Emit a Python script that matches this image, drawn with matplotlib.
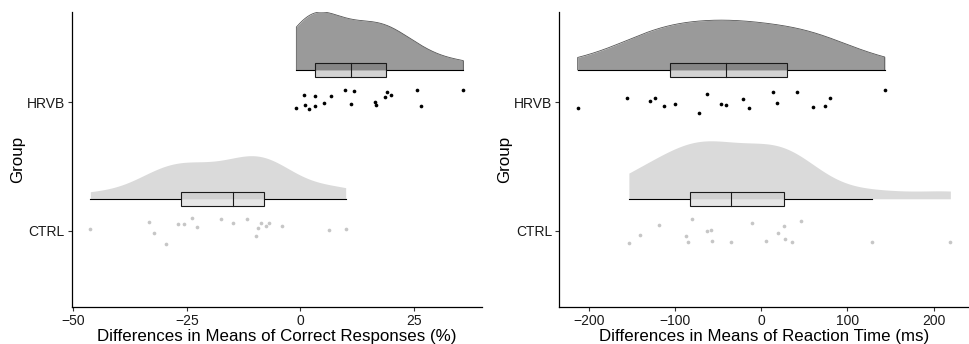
import numpy as np
import matplotlib
matplotlib.use('Agg')
import matplotlib.pyplot as plt
from matplotlib.patches import Rectangle

plt.rcParams['font.family'] = ['Liberation Sans', 'DejaVu Sans']

groups = ['CTRL', 'HRVB']

# Left panel: differences in means of correct responses (%)
cr_hrvb = [-0.88, 0.73, 0.95, 1.98, 3.30, 3.30, 5.22, 6.83, 9.76, 11.08, 11.74,
           16.37, 16.59, 18.57, 19.16, 20.04, 25.70, 26.65, 35.90]
cr_hrvb_jit = [-0.047, 0.059, -0.026, -0.054, 0.051, -0.029, -0.003, 0.049, 0.093, -0.016,
               0.088, 0.002, -0.021, 0.039, 0.075, 0.057, 0.093, -0.029, 0.096]
cr_ctrl = [-46.26, -33.26, -32.16, -29.58, -26.94, -25.62, -23.94, -22.84, -17.40, -14.91,
           -11.67, -9.69, -9.25, -8.59, -7.49, -6.83, -3.96, 6.39, 9.98]
cr_ctrl_jit = [0.016, 0.072, -0.016, -0.099, 0.052, 0.054, 0.101, 0.031, 0.091, 0.062,
               0.096, -0.037, 0.023, 0.060, 0.041, 0.062, 0.041, 0.010, 0.016]

# Right panel: differences in means of reaction time (ms)
rt_hrvb = [-213.2, -156.0, -129.7, -123.9, -113.1, -100.0, -72.2, -63.6, -47.0, -41.2,
           -21.1, -13.7, 13.3, 17.9, 41.5, 60.1, 74.5, 79.8, 143.3]
rt_hrvb_jit = [-0.047, 0.036, 0.010, 0.033, -0.029, -0.016, -0.085, 0.064, -0.011, -0.026,
               0.028, -0.044, 0.080, -0.003, 0.080, -0.037, -0.029, 0.036, 0.096]
rt_ctrl = [-153.7, -140.6, -119.3, -87.6, -85.3, -80.3, -63.6, -58.6, -57.4, -35.7,
           -11.0, 5.2, 19.95, 26.1, 27.6, 35.4, 46.2, 128.2, 219.5]
rt_ctrl_jit = [-0.091, -0.033, 0.049, -0.039, -0.088, 0.096, 0.002, 0.005, -0.080, -0.085,
               0.062, -0.080, -0.018, 0.041, -0.064, -0.083, 0.078, -0.085, -0.083]

panels = [
    dict(data={'CTRL': (cr_ctrl, cr_ctrl_jit), 'HRVB': (cr_hrvb, cr_hrvb_jit)},
         xlabel='Differences in Means of Correct Responses (%)',
         xticks=[-50, -25, 0, 25]),
    dict(data={'CTRL': (rt_ctrl, rt_ctrl_jit), 'HRVB': (rt_hrvb, rt_hrvb_jit)},
         xlabel='Differences in Means of Reaction Time (ms)',
         xticks=[-200, -100, 0, 100, 200]),
]

style = {
    'HRVB': dict(vfill='#9a9a9a', vedge='#555555', box=(0.26, 0.26, 0.26, 0.23), pt='black'),
    'CTRL': dict(vfill='#dadada', vedge=None, box=(0.757, 0.757, 0.757, 0.40), pt='#c6c6c6'),
}


def kde(x, grid):
    x = np.asarray(x, float)
    n = len(x)
    sd = x.std(ddof=1)
    iqr = np.subtract(*np.percentile(x, [75, 25]))
    bw = 0.9 * min(sd, iqr / 1.34) * n ** -0.2
    z = (grid[:, None] - x[None, :]) / bw
    return np.exp(-0.5 * z ** 2).sum(1) / (n * bw * np.sqrt(2 * np.pi))


fig = plt.figure(figsize=(9.69, 3.44), dpi=100)
axes = [fig.add_axes([0.074, 0.1076, 0.4234, 0.8576]),
        fig.add_axes([0.5769, 0.1076, 0.4231, 0.8576])]

for ax, pan in zip(axes, panels):
    dens = {}
    for g in groups:
        x = np.asarray(pan['data'][g][0])
        grid = np.linspace(x.min(), x.max(), 512)
        dens[g] = (grid, kde(x, grid))
    dmax = max(d.max() for _, d in dens.values())
    allx = np.concatenate([pan['data'][g][0] for g in groups])
    rng = allx.max() - allx.min()
    for pos, g in enumerate(groups, start=1):
        x = np.asarray(pan['data'][g][0])
        jit = np.asarray(pan['data'][g][1])
        st = style[g]
        base = pos + 0.25
        grid, d = dens[g]
        half = 0.45 * d / dmax
        ax.fill_between(grid, base, base + half, color=st['vfill'], lw=0, zorder=1)
        if st['vedge']:
            ox = np.concatenate([[grid[0]], grid, [grid[-1]]])
            oy = np.concatenate([[base], base + half, [base]])
            ax.plot(ox, oy, color=st['vedge'], lw=0.6, zorder=1.5)
        q1, med, q3 = np.percentile(x, [25, 50, 75])
        iqr = q3 - q1
        lo = x[x >= q1 - 1.5 * iqr].min()
        hi = x[x <= q3 + 1.5 * iqr].max()
        ax.plot([lo, q1], [base, base], color='black', lw=0.8, zorder=3)
        ax.plot([q3, hi], [base, base], color='black', lw=0.8, zorder=3)
        bh = 0.053
        ax.add_patch(Rectangle((q1, base - bh), q3 - q1, 2 * bh, facecolor=st['box'],
                               edgecolor='#1a1a1a', lw=0.8, zorder=3))
        ax.plot([med, med], [base - bh, base + bh], color='#1a1a1a', lw=0.8, zorder=3.5)
        ax.scatter(x, pos + jit, s=7, color=st['pt'], lw=0, zorder=4)
    ax.set_xlim(allx.min() - 0.05 * rng, allx.max() + 0.05 * rng)
    ax.set_ylim(0.41, 2.70)
    ax.set_xticks(pan['xticks'])
    ax.set_yticks([1, 2])
    ax.set_yticklabels(groups)
    ax.set_xlabel(pan['xlabel'], fontsize=12.2, labelpad=0.5)
    ax.set_ylabel('Group', fontsize=12.2, labelpad=1)
    for s in ['top', 'right']:
        ax.spines[s].set_visible(False)
    for s in ['left', 'bottom']:
        ax.spines[s].set_linewidth(0.9)
        ax.spines[s].set_color('black')
    ax.tick_params(length=3, width=0.8, color='#333333', labelsize=10,
                   labelcolor='#1a1a1a', pad=2)

fig.savefig('out.png', dpi=100)
